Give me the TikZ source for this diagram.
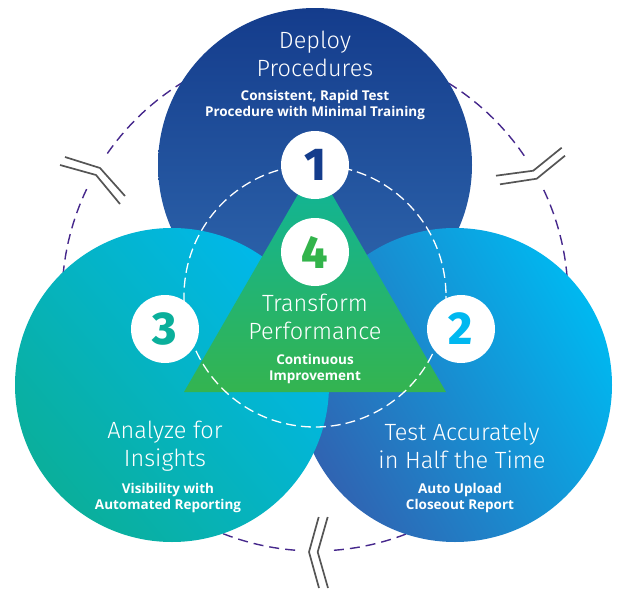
\documentclass[tikz,border=0pt]{standalone}
\usepackage{fontspec}
\setmainfont{Fira Sans}
\newfontfamily\lightf{Fira Sans Light}
\newfontfamily\subf{Open Sans}
\newfontfamily\numf{Fira Sans ExtraBold}
\definecolor{purp}{RGB}{70,40,140}
\definecolor{sym}{RGB}{85,85,85}
\tikzset{
  x=1pt,y=-1pt,
  disc/.style={circle,minimum size=314pt,inner sep=0pt},
  num/.style={circle,fill=white,minimum size=68pt,inner sep=0pt,font=\numf\fontsize{46}{46}\selectfont},
  title/.style={align=center,text=white,font=\lightf\fontsize{23.5}{28}\selectfont},
  sub/.style={align=center,text=white,font=\subf\bfseries\fontsize{13.5}{16}\selectfont},
  outer/.style={purp,line width=1.4pt,dash pattern=on 10pt off 6pt},
  inner/.style={white,line width=1.3pt,dash pattern=on 10pt off 5pt},
  brk/.style={sym,line width=1.7pt}
}
\begin{document}
\begin{tikzpicture}
\useasboundingbox (0,0) rectangle (622,589);
\draw[outer] plot[domain=34.2:146,samples=80] ({315+253*cos(\x)},{298-253*sin(\x)});
\draw[outer] plot[domain=154.5:265.9,samples=80] ({315+253*cos(\x)},{298-253*sin(\x)});
\draw[outer] plot[domain=274.3:385.8,samples=80] ({315+253*cos(\x)},{298-253*sin(\x)});
\draw[brk] (65,157)--(100,168)--(125,196);
\draw[brk] (60,165)--(96,175)--(120,204);
\draw[brk] (496,175.7)--(533.3,170.7)--(561.7,147.7);
\draw[brk] (500,184.3)--(536.7,178.7)--(565,155.7);
\draw[brk] (318.7,517)--(309,552)--(319,588);
\draw[brk] (327.7,517)--(317.7,552)--(328,588);
\node[disc,top color={rgb,255:red,20;green,60;blue,140},bottom color={rgb,255:red,48;green,105;blue,175}] (top) at (315,165) {};
\node[disc,bottom color={rgb,255:red,48;green,100;blue,178},top color={rgb,255:red,0;green,184;blue,240},shading angle=-60] (right) at (455,385) {};
\node[disc,bottom color={rgb,255:red,10;green,175;blue,155},top color={rgb,255:red,0;green,184;blue,235},shading angle=-50] (left) at (172,385) {};
\shade[top color={rgb,255:red,14;green,180;blue,155},bottom color={rgb,255:red,52;green,180;blue,80}] (315,165)--(446,392)--(184,392)--cycle;
\draw[inner] (315,296) circle[radius=131];
\node[num,text={rgb,255:red,20;green,60;blue,140}] (n1) at (315,165) {1};
\node[num,text={rgb,255:red,50;green,180;blue,75}] (n4) at (315,252) {4};
\node[num,text={rgb,255:red,10;green,175;blue,155}] (n3) at (165,329) {3};
\node[num,text={rgb,255:red,0;green,184;blue,240}] (n2) at (461,329) {2};
\node[title] (t1) at (315,54) {Deploy\\Procedures};
\node[sub] (s1) at (315,104.5) {Consistent, Rapid Test\\Procedure with Minimal Training};
\node[title] (t4) at (315,316.5) {Transform\\Performance};
\node[sub] (s4) at (315,368.5) {Continuous\\Improvement};
\node[title] (t3) at (165,446) {Analyze for\\Insights};
\node[sub] (s3) at (168,498) {Visibility with\\Automated Reporting};
\node[title] (t2) at (462,446) {Test Accurately\\in Half the Time};
\node[sub] (s2) at (460,498) {Auto Upload\\Closeout Report};
\end{tikzpicture}
\end{document}
